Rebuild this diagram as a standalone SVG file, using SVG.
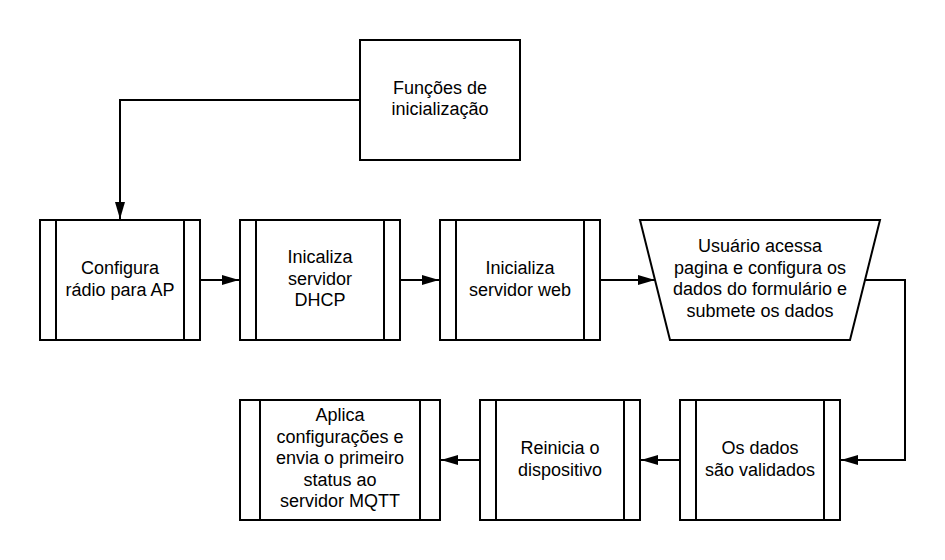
<svg xmlns="http://www.w3.org/2000/svg" width="945" height="560" viewBox="0 0 945 560">
<style>
.shape{fill:#ffffff;stroke:#000000;stroke-width:2}
.in{fill:none;stroke:#000000;stroke-width:2}
.conn{fill:none;stroke:#000000;stroke-width:2}
text{font-family:"Liberation Sans",Arial,sans-serif;font-size:18px;fill:#000000;text-anchor:middle}
</style>
<defs>
<marker id="arr" markerUnits="userSpaceOnUse" markerWidth="18" markerHeight="12" viewBox="0 0 18 12" refX="17" refY="6" orient="auto">
<path d="M0,1 L17,6 L0,11 Z" fill="#000000"/>
</marker>
</defs>
<rect width="945" height="560" fill="#ffffff"/>
<g id="connectors">
<path class="conn" d="M360,100 H120 V219" marker-end="url(#arr)"/>
<path class="conn" d="M200,280 H239" marker-end="url(#arr)"/>
<path class="conn" d="M400,280 H439" marker-end="url(#arr)"/>
<path class="conn" d="M600,280 H655" marker-end="url(#arr)"/>
<path class="conn" d="M865,280 H905 V460 H841" marker-end="url(#arr)"/>
<path class="conn" d="M680,460 H641" marker-end="url(#arr)"/>
<path class="conn" d="M480,460 H441" marker-end="url(#arr)"/>
</g>
<g id="n-funcoes">
<rect class="shape" x="360" y="40" width="160" height="120"/>
<text x="440" y="93.5">Funções de</text>
<text x="440" y="115">inicialização</text>
</g>
<g id="n-configura">
<rect class="shape" x="40" y="220" width="160" height="120"/>
<path class="in" d="M56,220 V340 M184,220 V340"/>
<text x="120" y="274">Configura</text>
<text x="120" y="295.5">rádio para AP</text>
</g>
<g id="n-dhcp">
<rect class="shape" x="240" y="220" width="160" height="120"/>
<path class="in" d="M256,220 V340 M384,220 V340"/>
<text x="320" y="263">Inicaliza</text>
<text x="320" y="284.5">servidor</text>
<text x="320" y="306">DHCP</text>
</g>
<g id="n-web">
<rect class="shape" x="440" y="220" width="160" height="120"/>
<path class="in" d="M456,220 V340 M584,220 V340"/>
<text x="520" y="274">Inicializa</text>
<text x="520" y="295.5">servidor web</text>
</g>
<g id="n-usuario">
<path class="shape" d="M640,220 H880 L850,340 H670 Z"/>
<text x="760" y="252">Usuário acessa</text>
<text x="760" y="273.5">pagina e configura os</text>
<text x="760" y="295">dados do formulário e</text>
<text x="760" y="316.5">submete os dados</text>
</g>
<g id="n-validados">
<rect class="shape" x="680" y="400" width="160" height="120"/>
<path class="in" d="M696,400 V520 M824,400 V520"/>
<text x="760" y="454">Os dados</text>
<text x="760" y="475.5">são validados</text>
</g>
<g id="n-reinicia">
<rect class="shape" x="480" y="400" width="160" height="120"/>
<path class="in" d="M496,400 V520 M624,400 V520"/>
<text x="560" y="454">Reinicia o</text>
<text x="560" y="475.5">dispositivo</text>
</g>
<g id="n-aplica">
<rect class="shape" x="240" y="400" width="200" height="120"/>
<path class="in" d="M260,400 V520 M420,400 V520"/>
<text x="340" y="421">Aplica</text>
<text x="340" y="442.5">configurações e</text>
<text x="340" y="464">envia o primeiro</text>
<text x="340" y="485.5">status ao</text>
<text x="340" y="507">servidor MQTT</text>
</g>
</svg>
